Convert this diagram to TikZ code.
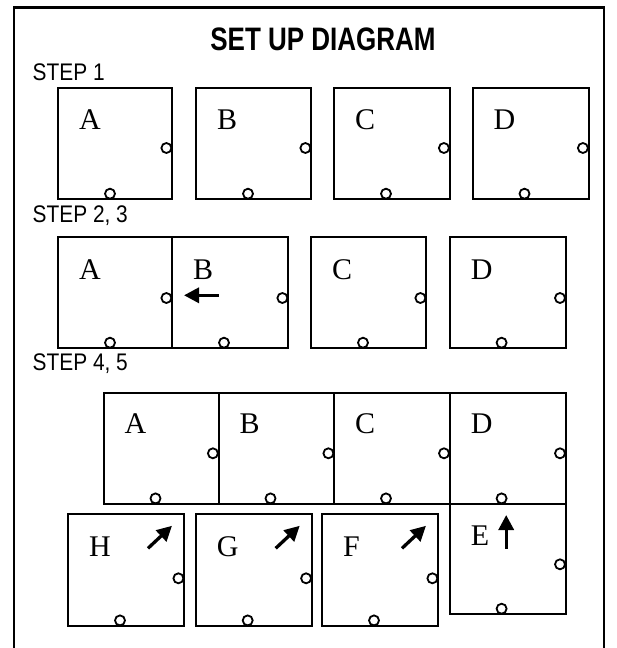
\documentclass[tikz,border=0pt]{standalone}
\usepackage{fontspec}
\usepackage{graphicx}
\setmainfont{Liberation Serif}
\newfontfamily\labfont{Liberation Sans}
\usetikzlibrary{calc,arrows.meta}
% name, x, y, w, h, letter, right-hole offset, letter baseline offset
\newcommand\mytile[8]{%
  \node[tilebox,minimum width=#4pt,minimum height=#5pt] (#1) at (#2,#3) {};
  \node[letter] (#1l) at ($(#1.north west)+(21,#8)$) {#6};
  \node[hole] (#1r) at ($(#1.north east)+(-5.6,#7)$) {};
  \node[hole] (#1b) at ($(#1.south west)+(52,-5.6)$) {};
}
\begin{document}
\begin{tikzpicture}[x=1pt,y=-1pt,
  tilebox/.style={draw,line width=2pt,inner sep=0,outer sep=0,anchor=north west},
  letter/.style={font=\fontsize{30}{30}\selectfont,inner sep=0,anchor=base west},
  hole/.style={draw,circle,line width=1.8pt,minimum size=10pt,inner sep=0,fill=white},
  steplab/.style={inner sep=0,anchor=base west},
  move/.style={line width=3.3pt,-{Triangle[length=15pt,width=15pt]}}]
\useasboundingbox (0,0) rectangle (616,648);
\draw[line width=2.2pt] (13.8,652) -- (13.8,7.5) -- (604,7.5) -- (604,652);

\node[font=\labfont\bfseries\fontsize{32.5}{32.5}\selectfont,inner sep=0,anchor=base] (title) at (323,50) {\scalebox{0.80}[1]{SET UP DIAGRAM}};

\node[steplab] (st1) at (32.5,80.7) {\labfont\fontsize{24}{24}\selectfont\scalebox{0.87}[1]{STEP 1}};
\node[steplab] (st2) at (32.5,222) {\labfont\fontsize{24}{24}\selectfont\scalebox{0.87}[1]{STEP 2, 3}};
\node[steplab] (st4) at (32.5,370.5) {\labfont\fontsize{24}{24}\selectfont\scalebox{0.87}[1]{STEP 4, 5}};

% Step 1
\mytile{s1a}{58}{87.7}{114}{111.6}{A}{60.3}{42}
\mytile{s1b}{196}{87.7}{115}{111.6}{B}{60.3}{42}
\mytile{s1c}{334}{87.7}{115.5}{111.6}{C}{60.3}{42}
\mytile{s1d}{472.5}{87.7}{116}{111.6}{D}{60.3}{42}

% Step 2, 3
\mytile{s2a}{58}{237.3}{114}{111}{A}{60.7}{42}
\mytile{s2b}{172}{237.3}{116}{111}{B}{60.7}{42}
\mytile{s2c}{311}{237.3}{115}{111}{C}{60.7}{42}
\mytile{s2d}{449.6}{237.3}{116}{111}{D}{60.7}{42}
\coordinate (m1s) at ($(s2b.north west)+(46.5,58)$);
\coordinate (m1e) at ($(s2b.north west)+(12,58)$);
\draw[move] (m1s) -- (m1e);

% Step 4, 5
\mytile{s4a}{103.5}{392.7}{115}{111.3}{A}{60.6}{41}
\mytile{s4b}{218.5}{392.7}{115.5}{111.3}{B}{60.6}{41}
\mytile{s4c}{334}{392.7}{115.6}{111.3}{C}{60.6}{41}
\mytile{s4d}{449.6}{392.7}{116}{111.3}{D}{60.6}{41}
\mytile{s4h}{68}{514.3}{116}{111.7}{H}{64}{42}
\mytile{s4g}{195.7}{514.3}{116}{111.7}{G}{64}{42}
\mytile{s4f}{322}{514.3}{116}{111.7}{F}{64}{42}
\mytile{s4e}{449.6}{504}{116}{110.3}{E}{60.3}{41}

\foreach \t in {s4h,s4g,s4f}{
  \coordinate (\t ms) at ($(\t.north west)+(80,34)$);
  \coordinate (\t me) at ($(\t.north west)+(104,11.5)$);
  \draw[move] (\t ms) -- (\t me);
}
\coordinate (s4ems) at ($(s4e.north west)+(56.6,44.5)$);
\coordinate (s4eme) at ($(s4e.north west)+(56.6,11)$);
\draw[move] (s4ems) -- (s4eme);
\end{tikzpicture}
\end{document}
